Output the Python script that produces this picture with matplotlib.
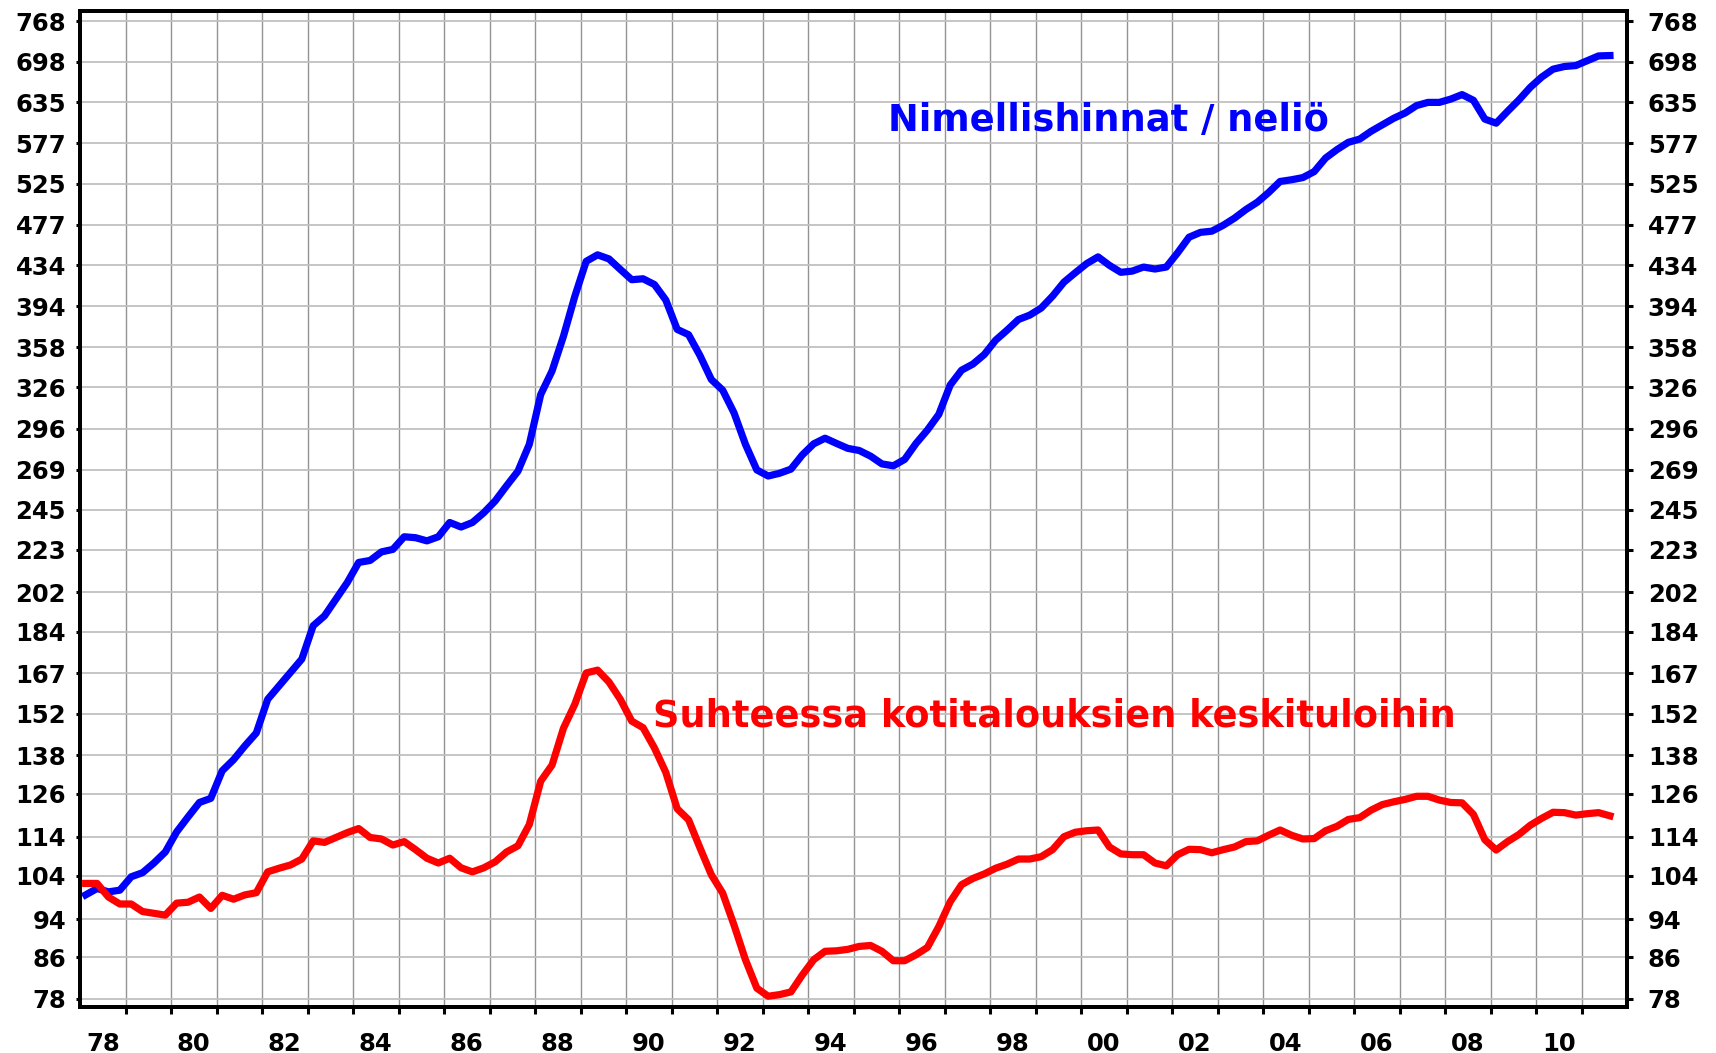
import numpy as np
import matplotlib.pyplot as plt
from matplotlib.ticker import FixedLocator, NullLocator, NullFormatter

plt.rcParams['font.family'] = ['DejaVu Sans']
plt.rcParams['font.weight'] = 'bold'

# quarterly index series, 1978Q1 .. 2011Q3
start_year = 1978

nimellishinnat = [
    99.5, 101.0, 100.2, 100.6,     # 1978
    103.8, 104.8, 107.2, 110.0,    # 1979
    115.3, 119.4, 123.5, 124.7,    # 1980
    133.0, 136.5, 141.0, 145.3,    # 1981
    157.2, 162.2, 167.4, 172.7,    # 1982
    186.7, 191.1, 198.7, 206.6,    # 1983
    216.5, 217.5, 221.9, 223.2,    # 1984
    229.9, 229.4, 227.7, 229.9,    # 1985
    237.7, 235.2, 237.7, 243.2,    # 1986
    250.0, 259.0, 268.0, 285.4,    # 1987
    320.6, 338.8, 367.4, 403.4,    # 1988
    437.8, 444.5, 440.3, 429.6,    # 1989
    419.4, 420.3, 414.7, 399.9,    # 1990
    373.4, 368.8, 351.3, 332.1,    # 1991
    323.9, 307.1, 285.4, 268.8,    # 1992
    265.0, 266.7, 269.3, 278.4,    # 1993
    285.7, 289.5, 286.0, 282.7,    # 1994
    281.3, 277.6, 272.6, 271.4,    # 1995
    275.5, 286.0, 295.1, 306.1,    # 1996
    327.8, 339.4, 344.3, 352.1,    # 1997
    364.1, 372.7, 382.1, 386.1,    # 1998
    392.5, 403.6, 417.0, 426.3,    # 1999
    435.5, 442.4, 433.7, 426.7,    # 2000
    427.9, 432.0, 430.0, 432.0,    # 2001
    446.7, 463.2, 468.5, 469.8,    # 2002
    476.3, 484.4, 494.2, 502.7,    # 2003
    514.3, 527.7, 529.8, 532.5,    # 2004
    540.0, 557.4, 568.5, 578.3,    # 2005
    582.7, 593.4, 602.5, 611.8,    # 2006
    619.4, 630.2, 634.9, 634.9,    # 2007
    639.8, 646.6, 638.0, 610.6,    # 2008
    604.8, 621.8, 638.6, 657.7,    # 2009
    673.6, 686.2, 690.5, 692.0,    # 2010
    699.8, 707.8, 708.4,           # 2011
]

suhteessa_tuloihin = [
    102.2, 102.2, 99.0, 97.4,      # 1978
    97.4, 95.7, 95.3, 94.9,        # 1979
    97.6, 97.8, 99.0, 96.4,        # 1980
    99.4, 98.5, 99.5, 100.0,       # 1981
    105.0, 105.9, 106.7, 108.2,    # 1982
    112.9, 112.5, 113.8, 115.1,    # 1983
    116.2, 113.8, 113.4, 111.8,    # 1984
    112.7, 110.6, 108.4, 107.2,    # 1985
    108.4, 106.0, 105.0, 106.0,    # 1986
    107.5, 110.0, 111.6, 117.3,    # 1987
    129.8, 134.8, 146.9, 155.4,    # 1988
    167.2, 168.3, 163.7, 157.2,    # 1989
    149.4, 147.1, 140.3, 132.5,    # 1990
    121.7, 118.6, 111.1, 104.3,    # 1991
    99.9, 92.7, 85.5, 80.0,        # 1992
    78.5, 78.8, 79.3, 82.5,        # 1993
    85.5, 87.2, 87.3, 87.6,        # 1994
    88.2, 88.4, 87.2, 85.3,        # 1995
    85.3, 86.5, 88.0, 92.4,        # 1996
    97.9, 101.9, 103.4, 104.5,     # 1997
    105.9, 106.9, 108.2, 108.2,    # 1998
    108.8, 110.6, 114.0, 115.2,    # 1999
    115.6, 115.8, 111.3, 109.5,    # 2000
    109.3, 109.3, 107.2, 106.5,    # 2001
    109.3, 110.7, 110.6, 109.8,    # 2002
    110.6, 111.3, 112.7, 112.9,    # 2003
    114.4, 115.8, 114.4, 113.4,    # 2004
    113.5, 115.6, 116.8, 118.7,    # 2005
    119.2, 121.3, 122.9, 123.7,    # 2006
    124.4, 125.3, 125.3, 124.2,    # 2007
    123.5, 123.4, 120.1, 113.2,    # 2008
    110.5, 112.7, 114.6, 117.1,    # 2009
    119.0, 120.7, 120.6, 119.9,    # 2010
    120.3, 120.6, 119.7,           # 2011
]

ytick_vals = [78, 86, 94, 104, 114, 126, 138, 152, 167, 184, 202, 223, 245,
              269, 296, 326, 358, 394, 434, 477, 525, 577, 635, 698, 768]
year_labels = ['78', '80', '82', '84', '86', '88', '90', '92', '94', '96',
               '98', '00', '02', '04', '06', '08', '10']

# quarter mid points
x = start_year + (np.arange(len(nimellishinnat)) + 0.5) / 4.0

W, H = 1716, 1053
fig = plt.figure(figsize=(W / 100, H / 100), dpi=100)
ax = fig.add_axes([80 / W, 1 - 1007 / H, 1547 / W, 996 / H])

ax.plot(x, nimellishinnat, color='#0000ff', lw=5.2, zorder=3)
ax.plot(x, suhteessa_tuloihin, color='#ff0000', lw=5.2, zorder=3)

ax.set_yscale('log')
ylim = (76.55, 786.2)
ax.set_ylim(*ylim)
ax.set_xlim(1978, 2012)

# y ticks (log, fixed values)
ax.yaxis.set_major_locator(FixedLocator(ytick_vals))
ax.yaxis.set_minor_locator(NullLocator())
ax.set_yticklabels([str(v) for v in ytick_vals])
ax.tick_params(axis='y', which='major', direction='out', length=3, width=2.2,
               labelsize=17.5, pad=7)

# x ticks: a mark every year, labels in the middle of every other year
ax.xaxis.set_major_locator(FixedLocator(np.arange(1979, 2012)))
ax.xaxis.set_major_formatter(NullFormatter())
label_pos = [start_year + 2 * i + 0.5 for i in range(len(year_labels))]
ax.xaxis.set_minor_locator(FixedLocator(label_pos))
ax.set_xticklabels(year_labels, minor=True)
ax.tick_params(axis='x', which='major', direction='out', length=5, width=2.2)
ax.tick_params(axis='x', which='minor', length=0, labelsize=17.5, pad=18)

ax.set_axisbelow(True)
ax.grid(axis='x', which='major', color='#939393', lw=1.0)
ax.grid(axis='y', which='major', color='#c0c0c0', lw=1.3)

# right hand axis with the same scale
ax2 = ax.twinx()
ax2.set_yscale('log')
ax2.set_ylim(*ylim)
ax2.yaxis.set_major_locator(FixedLocator(ytick_vals))
ax2.yaxis.set_minor_locator(NullLocator())
ax2.set_yticklabels([str(v) for v in ytick_vals])
ax2.tick_params(axis='y', which='major', direction='out', length=4, width=2.2,
                labelsize=17.5, pad=11)

for a in (ax, ax2):
    for s in a.spines.values():
        s.set_linewidth(2.8)
        s.set_color('black')

ax.text(0.6645, 0.880, 'Nimellishinnat / neliö', transform=ax.transAxes,
        ha='center', va='baseline', color='#0000ff', fontsize=26.5,
        fontweight='bold', zorder=4)
ax.text(0.6296, 0.2814, 'Suhteessa kotitalouksien keskituloihin',
        transform=ax.transAxes, ha='center', va='baseline', color='#ff0000',
        fontsize=26.5, fontweight='bold', zorder=4)

fig.savefig('out.png', dpi=100)
